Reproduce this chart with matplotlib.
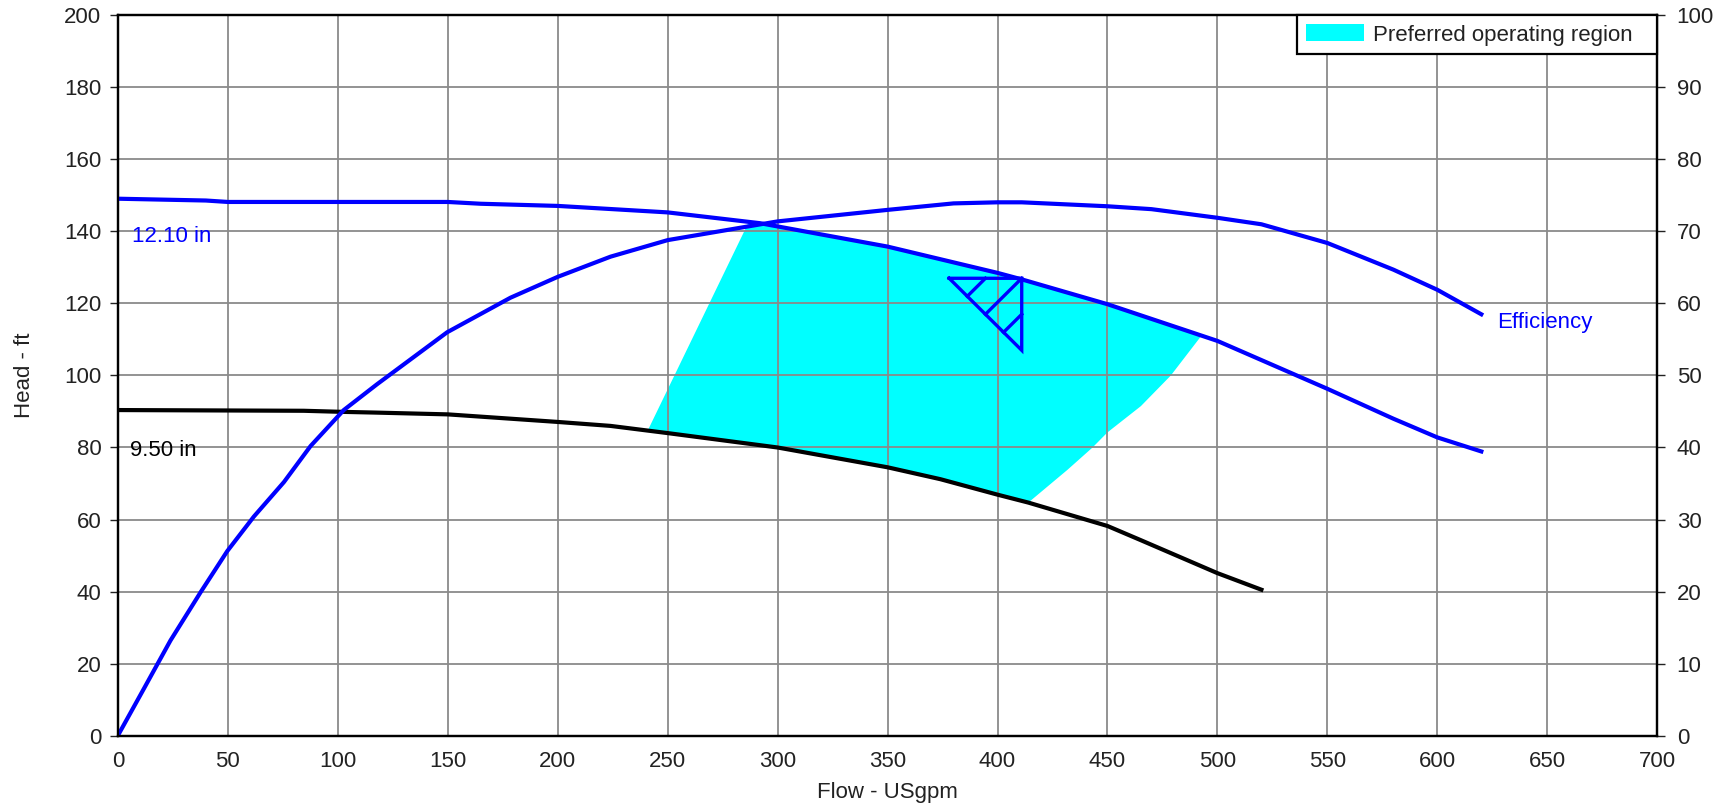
import numpy as np
import matplotlib
matplotlib.use("Agg")
import matplotlib.pyplot as plt
from matplotlib.patches import Patch

plt.rcParams['font.family'] = ['Liberation Sans', 'DejaVu Sans']

# head curve, 12.10 in impeller
head_1210_flow = [0, 40, 50, 100, 150, 165, 200, 250, 292, 300, 350, 400, 411, 450, 500, 550, 580, 600, 620]
head_1210 = [149.1, 148.6, 148.2, 148.2, 148.2, 147.7, 147.1, 145.3, 142.3, 141.4, 135.8, 128.5, 126.7,
             119.8, 109.6, 96.3, 88.0, 82.8, 78.9]

# head curve, 9.50 in impeller
head_950_flow = [0, 84.5, 102, 117, 150, 200, 224, 250, 300, 350, 374, 400, 414, 450, 465, 500, 520]
head_950 = [90.4, 90.2, 89.9, 89.7, 89.2, 87.1, 86.0, 84.0, 80.0, 74.5, 71.2, 66.9, 64.7, 58.2, 54.3,
            45.1, 40.5]

# efficiency curve (right axis, %)
eff_flow = [0, 11.8, 23.9, 37.6, 49.7, 61.8, 75.5, 87.6, 102.7, 117.9, 149.7, 178.5, 200, 224, 250,
            300, 350, 380, 400, 411, 450, 470, 500, 520, 550, 580, 600, 620]
eff = [0, 6.5, 13.2, 19.9, 25.6, 30.4, 35.2, 40.2, 45.2, 48.8, 56.0, 60.8, 63.7, 66.5, 68.8,
       71.4, 73.0, 73.9, 74.05, 74.05, 73.5, 73.1, 71.9, 71.0, 68.4, 64.7, 61.9, 58.5]

# preferred operating region outline
region_flow = [241, 287, 300, 350, 400, 411, 450, 492.4, 478.8, 465.2, 450, 443.2, 431.8, 414.4,
               400, 374, 350, 300, 250, 241]
region_head = [84.8, 142.8, 141.4, 135.8, 128.5, 126.7, 119.8, 110.8, 100.0, 91.5, 84.2, 80.0, 73.8, 64.9,
               66.9, 71.2, 74.5, 80.0, 84.0, 84.8]

# best efficiency point symbol (triangle)
bep_flow = [378, 411, 411, 378]
bep_head = [127, 127, 107, 127]

TEXT = '#222222'
BLUE = '#0000ff'
FS = 16

fig = plt.figure(figsize=(17.29, 8.05), dpi=100)
ax = fig.add_axes([0.0682, 0.0863, 0.8903, 0.8945])
ax2 = ax.twinx()

ax.fill(region_flow, region_head, color='#00ffff', lw=0, zorder=1)
ax.plot(head_1210_flow, head_1210, color=BLUE, lw=3, zorder=3)
ax.plot(head_950_flow, head_950, color='black', lw=3, zorder=3)

# triangle + hatch lines
ax.plot(bep_flow, bep_head, color=BLUE, lw=2.4, zorder=4, solid_joinstyle='miter')
A = np.array([bep_flow[0], bep_head[0]])
B = np.array([bep_flow[1], bep_head[1]])
C = np.array([bep_flow[2], bep_head[2]])
for t, end in [(0.25, (A + B) / 2), (0.5, B), (0.75, (B + C) / 2)]:
    p = A + t * (C - A)
    ax.plot([p[0], end[0]], [p[1], end[1]], color=BLUE, lw=2.4, zorder=4)

ax2.plot(eff_flow, eff, color=BLUE, lw=3)

ax.text(6.5, 138.6, '12.10 in', color=BLUE, fontsize=FS, va='center', ha='left')
ax.text(5.4, 79.3, '9.50 in', color='black', fontsize=FS, va='center', ha='left')
ax.text(627, 114.6, 'Efficiency', color=BLUE, fontsize=FS, va='center', ha='left')

ax.set_xlim(0, 700)
ax.set_ylim(0, 200)
ax2.set_ylim(0, 100)
ax.set_xticks(np.arange(0, 701, 50))
ax.set_yticks(np.arange(0, 201, 20))
ax2.set_yticks(np.arange(0, 101, 10))

ax.set_axisbelow('line')
ax.grid(True, color='#8a8a8a', lw=1.3)

ax.tick_params(axis='y', direction='out', length=6, width=1, pad=6, labelsize=FS, labelcolor=TEXT, color=TEXT)
ax.tick_params(axis='x', length=0, pad=11, labelsize=FS, labelcolor=TEXT)
ax2.tick_params(axis='y', direction='out', length=6, width=1, pad=8, labelsize=FS, labelcolor=TEXT, color=TEXT)

for a in (ax, ax2):
    for s in a.spines.values():
        s.set_linewidth(1.6)
        s.set_color('black')

ax.set_xlabel('Flow - USgpm', fontsize=FS, color=TEXT, labelpad=7)
ax.set_ylabel('Head - ft', fontsize=FS, color=TEXT, labelpad=21)

leg_w = 0.234
leg = ax2.legend(handles=[Patch(facecolor='#00ffff', edgecolor='none', label='Preferred operating region')],
                 loc='upper right', bbox_to_anchor=(1 - leg_w, 0, leg_w, 1), mode='expand',
                 borderaxespad=0, fancybox=False, framealpha=1, fontsize=FS,
                 handlelength=2.6, handleheight=0.8, borderpad=0.4, handletextpad=0.4)
leg.get_frame().set_edgecolor('black')
leg.get_frame().set_linewidth(1.6)
for txt in leg.get_texts():
    txt.set_color(TEXT)

fig.savefig('out.png', dpi=100)
